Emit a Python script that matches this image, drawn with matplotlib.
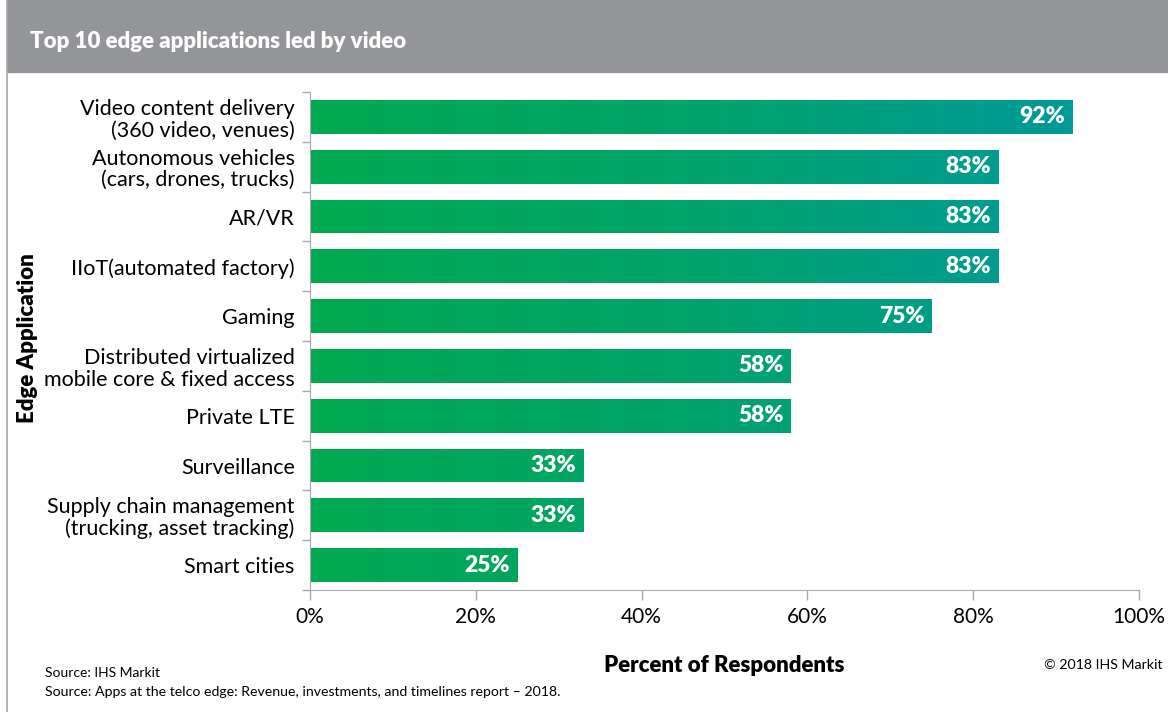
import numpy as np
import matplotlib.pyplot as plt
from matplotlib.colors import LinearSegmentedColormap
from matplotlib.patches import Rectangle
from matplotlib.lines import Line2D

plt.rcParams['font.family'] = ['Lato', 'DejaVu Sans']

# data
apps = [
    "Video content delivery\n(360 video, venues)",
    "Autonomous vehicles\n(cars, drones, trucks)",
    "AR/VR",
    "IIoT(automated factory)",
    "Gaming",
    "Distributed virtualized\nmobile core & fixed access",
    "Private LTE",
    "Surveillance",
    "Supply chain management\n(trucking, asset tracking)",
    "Smart cities",
]
pct = [92, 83, 83, 83, 75, 58, 58, 33, 33, 25]
xticks = [0, 20, 40, 60, 80, 100]

W, H = 1168, 712
fig = plt.figure(figsize=(W / 100, H / 100), dpi=100)

# title band + left border
fig.patches.append(Rectangle((7 / W, 1 - 72 / H), 1 - 7 / W, 72 / H,
                             transform=fig.transFigure, color="#939598", zorder=0))
fig.lines.append(Line2D([7 / W, 7 / W], [0, 1], transform=fig.transFigure,
                        color="#a7a9ac", lw=1.2))
fig.text(30 / W, 1 - 42 / H, "Top 10 edge applications led by video", color="white",
         fontsize=16, fontweight="heavy", va="center", ha="left")

ax = fig.add_axes([310 / W, 1 - 590 / H, 829 / W, 498 / H])
cmap = LinearSegmentedColormap.from_list("edge", ["#00a94f", "#00a36a", "#009a98"])
grad = np.linspace(0, 1, 256).reshape(1, -1)

n = len(apps)
ypos = np.arange(n)
bh = 0.68
for y, v in zip(ypos, pct):
    im = ax.imshow(grad, cmap=cmap, aspect="auto", extent=(0, 92, y + bh / 2, y - bh / 2),
                   zorder=2, vmin=0, vmax=1)
    clip = Rectangle((0, y - bh / 2), v, bh, transform=ax.transData)
    im.set_clip_path(clip)
    ax.text(v - 0.9, y, f"{v}%", color="white", fontsize=16.5, fontweight="heavy",
            ha="right", va="center", zorder=3)

ax.set_xlim(0, 100)
ax.set_ylim(n - 0.5, -0.5)
ax.set_yticks(ypos)
ax.set_yticklabels(apps, fontsize=15.5, linespacing=1.1)
ax.set_yticks(np.arange(n + 1) - 0.5, minor=True)
ax.tick_params(axis="y", which="major", length=0, pad=11)
ax.tick_params(axis="y", which="minor", length=6, color="#a7a9ac", width=1)
ax.set_xticks(xticks)
ax.set_xticklabels([f"{t}%" for t in xticks], fontsize=15)
ax.tick_params(axis="x", length=7, color="#a7a9ac", width=1, pad=5)
for s in ["top", "right"]:
    ax.spines[s].set_visible(False)
for s in ["left", "bottom"]:
    ax.spines[s].set_color("#a7a9ac")

fig.text(28 / W, 1 - 338 / H, "Edge Application", rotation=90, fontsize=16,
         fontweight="heavy", ha="center", va="center")
fig.text(724 / W, 1 - 665 / H, "Percent of Respondents", fontsize=16,
         fontweight="heavy", ha="center", va="center")
fig.text(45 / W, 1 - 673 / H, "Source: IHS Markit", fontsize=10, va="center")
fig.text(45 / W, 1 - 692 / H,
         "Source: Apps at the telco edge: Revenue, investments, and timelines report \u2013 2018.",
         fontsize=10.2, va="center")
fig.text(1162 / W, 1 - 665 / H, "\u00a9 2018 IHS Markit", fontsize=10.2, ha="right",
         va="center")

fig.savefig("out.png", dpi=100)
